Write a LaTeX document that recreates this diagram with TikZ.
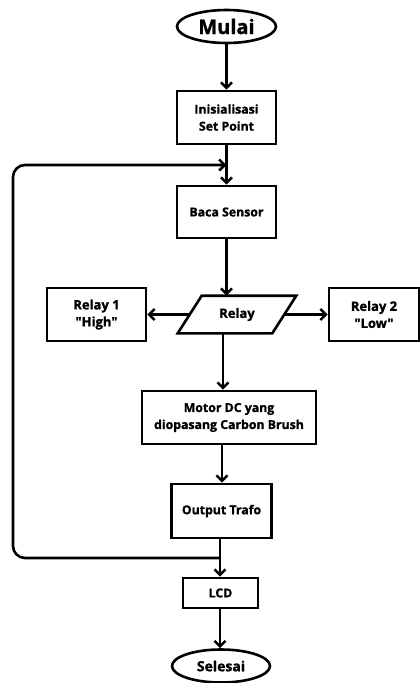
\documentclass[tikz,border=0pt]{standalone}
\usepackage{fontspec}
\setmainfont{Open Sans}[Ligatures=TeXOff,BoldFeatures={FakeBold=1.3}]
\usetikzlibrary{arrows.meta,shapes.geometric}
\begin{document}
\begin{tikzpicture}[x=1pt,y=-1pt,
  box/.style={draw=black,line width=2.6pt,inner sep=0pt,align=center,font=\bfseries\fontsize{12.3}{17}\selectfont},
  term/.style={draw=black,line width=2.6pt,ellipse,inner sep=0pt},
  arr/.style={line width=2.6pt,-{Straight Barb[length=5.5pt,width=11pt,line width=2.6pt]}},
  line/.style={line width=2.6pt}]
\useasboundingbox (0,0) rectangle (420,683);
\node[term,minimum width=99,minimum height=33,font=\bfseries\fontsize{20}{24}\selectfont] (mulai) at (226.5,26.5) {Mulai};
\node[box,minimum width=99,minimum height=53] (ini) at (226.5,117.5) {Inisialisasi\\Set Point};
\node[box,minimum width=99,minimum height=52] (baca) at (226.5,212) {Baca Sensor};
\node[box,draw=none,minimum width=92,minimum height=35,font=\bfseries\fontsize{13}{17}\selectfont] (relay) at (237,314.5) {Relay};
\draw[line,line join=miter] ([xshift=-12]relay.south west) -- ([xshift=-12]relay.south east) -- ([xshift=12]relay.north east) -- ([xshift=12]relay.north west) -- cycle;
\node[box,minimum width=99,minimum height=53,font=\bfseries\fontsize{13}{17}\selectfont] (r1) at (96.5,314.5) {Relay 1\\"High"};
\node[box,minimum width=90,minimum height=53,font=\bfseries\fontsize{13}{17}\selectfont] (r2) at (374,314.5) {Relay 2\\"Low"};
\node[box,minimum width=174,minimum height=53] (motor) at (229,417.5) {Motor DC yang\\diopasang Carbon Brush};
\node[box,minimum width=100,minimum height=54] (ot) at (221.5,511) {Output Trafo};
\node[box,minimum width=75,minimum height=30] (lcd) at (220.5,593) {LCD};
\node[term,minimum width=98,minimum height=33,font=\bfseries\fontsize{14}{17}\selectfont] (sel) at (221,666) {Selesai};
\coordinate (j1) at (220,558);
\coordinate (c1) at (13,558);
\coordinate (c2) at (13,165);
\coordinate (j2) at (226.5,165);
\draw[arr] (mulai) -- (ini);
\draw[arr] (ini) -- (baca);
\draw[arr] (baca.south) -- (baca.south |- relay.north);
\draw[arr] (relay.west) -- (r1.east);
\draw[arr] (relay.east) -- (r2.west);
\draw[arr] (relay.south -| 223,0) -- (motor.north -| 223,0);
\draw[arr] (motor.south -| 222,0) -- (ot.north -| 222,0);
\draw[arr] (ot.south -| j1) -- (lcd.north -| j1);
\draw[arr] (lcd.south -| j1) -- (sel.north -| j1);
\draw[arr,rounded corners=12pt] (j1) -- (c1) -- (c2) -- (j2);
\end{tikzpicture}
\end{document}
